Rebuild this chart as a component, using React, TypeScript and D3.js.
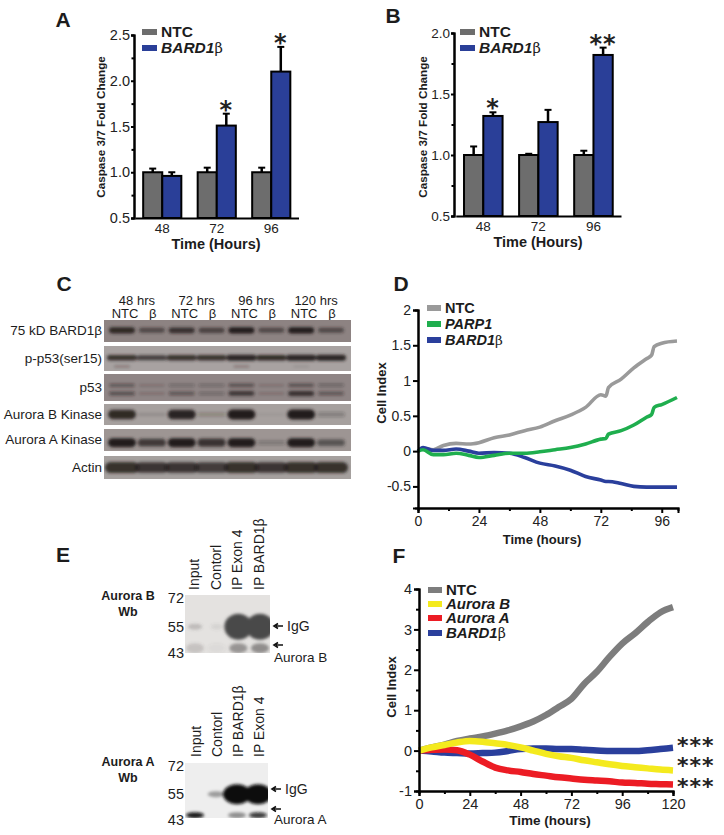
import React, { useEffect, useRef } from 'react';
import * as d3 from 'd3';

const SANS = '"Liberation Sans", Arial, sans-serif';
const SERIF = '"DejaVu Serif", "Liberation Serif", serif';
const STAR_FONT = '"DejaVu Sans", sans-serif';

// bar panels A and B
const timesAB = ['48', '72', '96'];
const ntcA = [1, 1, 1];
const bardA = [0.96, 1.51, 2.1];
const ntcErrA = [0.04, 0.05, 0.05];
const bardErrA = [0.04, 0.13, 0.27];
const starsA = ['', '*', '*'];
const ticksA = [0.5, 1, 1.5, 2, 2.5];
const minorA = [0.75, 1.25, 1.75, 2.25];

const ntcB = [1, 1, 1];
const bardB = [1.32, 1.27, 1.82];
const ntcErrB = [0.07, 0.01, 0.035];
const bardErrB = [0.03, 0.1, 0.06];
const starsB = ['*', '', '**'];
const ticksB = [0.5, 1, 1.5, 2];
const minorB = [0.75, 1.25, 1.75];

// western blot C, band strength per lane
const blotRows = ['75 kD BARD1β', 'p-p53(ser15)', 'p53', 'Aurora B Kinase', 'Aurora A Kinase', 'Actin'];
const blotHours = ['48 hrs', '72 hrs', '96 hrs', '120 hrs'];
const blotLanes = ['NTC', 'β', 'NTC', 'β', 'NTC', 'β', 'NTC', 'β'];
const bard1Bands = [0.9, 0.6, 0.8, 0.65, 1, 0.6, 1, 0.6];
const pp53Bands = [0.85, 0.75, 0.85, 0.85, 0.95, 0.9, 0.95, 0.95];
const pp53Faint = [0.3, 0, 0, 0, 0.3, 0, 0.1, 0];
const p53Upper = [0.45, 0.2, 0.3, 0.3, 0.5, 0.2, 0.5, 0.35];
const p53Lower = [0.5, 0.2, 0.45, 0.3, 0.75, 0.2, 0.8, 0.45];
const auroraBBands = [0.9, 0.12, 0.95, 0.2, 1, 0.06, 1, 0.25];
const auroraABands = [1, 0.75, 1, 0.8, 1, 0.25, 1, 0.55];
const actinBands = [0.85, 0.8, 0.8, 0.75, 0.85, 0.8, 0.85, 0.85];

// growth curves D
const hoursD = [0, 2, 6, 10, 15, 20, 24, 30, 36, 42, 48, 54, 60, 66, 72, 74, 75, 80, 85, 90, 92, 93, 96, 102];
const ntcD = [0, 0.04, 0.02, 0.08, 0.11, 0.1, 0.12, 0.19, 0.23, 0.29, 0.34, 0.43, 0.51, 0.62, 0.8, 0.78, 0.9, 1.02, 1.18, 1.31, 1.36, 1.48, 1.53, 1.56];
const parp1D = [0, 0.02, -0.05, -0.05, -0.03, -0.06, -0.09, -0.06, -0.03, -0.03, -0.01, 0.02, 0.05, 0.1, 0.17, 0.18, 0.24, 0.29, 0.37, 0.48, 0.52, 0.62, 0.66, 0.76];
const bardD = [0, 0.05, 0.01, 0.01, 0.03, 0, -0.03, -0.02, -0.03, -0.09, -0.17, -0.21, -0.27, -0.36, -0.41, -0.43, -0.43, -0.46, -0.5, -0.51, -0.51, -0.51, -0.51, -0.51];

// growth curves F
const hoursF = [0, 6, 12, 18, 24, 30, 36, 42, 48, 54, 60, 66, 72, 78, 84, 90, 96, 102, 108, 114, 120];
const ntcF = [0, 0.08, 0.15, 0.24, 0.3, 0.35, 0.42, 0.5, 0.6, 0.72, 0.88, 1.08, 1.28, 1.65, 1.95, 2.32, 2.65, 2.9, 3.18, 3.42, 3.55];
const auroraBF = [0, 0.08, 0.14, 0.2, 0.24, 0.22, 0.18, 0.14, 0.08, 0, -0.08, -0.14, -0.18, -0.24, -0.29, -0.34, -0.38, -0.41, -0.44, -0.47, -0.49];
const auroraAF = [0, 0.02, 0.03, 0.01, -0.1, -0.27, -0.42, -0.49, -0.53, -0.58, -0.62, -0.66, -0.69, -0.72, -0.74, -0.76, -0.79, -0.8, -0.82, -0.83, -0.84];
const bardF = [0, -0.02, -0.05, -0.06, -0.07, -0.06, -0.05, -0.01, 0.04, 0.05, 0.05, 0.04, 0.04, 0.02, 0, -0.01, -0.01, -0.01, 0.01, 0.04, 0.07];

// co-IP blots E
const kDa = [72, 55, 43];
const lanesEB = ['Input', 'Contorl', 'IP Exon 4', 'IP BARD1β'];
const lanesEA = ['Input', 'Contorl', 'IP BARD1β', 'IP Exon 4'];
const upperBandsEB = [0.25, 0.1, 1, 1];
const lowerBandsEB = [0.2, 0.05, 0.5, 0.55];
const upperBandsEA = [0, 0.35, 1, 1];
const lowerBandsEA = [0.95, 0, 0.4, 0.8];

const GREY = '#6d6d6d';
const BLUE = '#2a3f98';
const LIGHT_GREY = '#9a9a9a';
const GREEN = '#1fae4e';
const YELLOW = '#f4ea1e';
const RED = '#ec1c24';
const LINE_BLUE = '#2a3f9c';

type G = d3.Selection<SVGGElement, unknown, null, undefined>;

function label(g: G, x: number, y: number, s: string, size: number, weight = 'normal', anchor = 'middle', rotate = false) {
  return g.append('text')
    .attr('transform', rotate ? `translate(${x},${y}) rotate(-90)` : `translate(${x},${y})`)
    .attr('text-anchor', anchor)
    .attr('font-family', SANS)
    .attr('font-size', size)
    .attr('font-weight', weight)
    .attr('fill', '#1c1c1c')
    .text(s);
}

function legendItem(g: G, x: number, y: number, color: string, name: string, italic: boolean, beta: boolean, size: number, swatch: number) {
  g.append('rect').attr('x', x).attr('y', y - 3).attr('width', swatch).attr('height', 6).attr('fill', color);
  const t = g.append('text')
    .attr('x', x + swatch + 4).attr('y', y + 5)
    .attr('font-family', SANS).attr('font-size', size).attr('font-weight', 'bold').attr('fill', '#1c1c1c');
  t.append('tspan').attr('font-style', italic ? 'italic' : 'normal').text(name);
  if (beta) t.append('tspan').attr('font-family', SERIF).attr('font-weight', 'normal').attr('font-size', size - 1).text('β');
}

function styleAxis(a: G, size: number) {
  a.attr('font-family', SANS).attr('font-size', size);
  a.select('.domain').attr('stroke', '#000').attr('stroke-width', 2);
  a.selectAll('line').attr('stroke', '#000').attr('stroke-width', 2);
  a.selectAll('text').attr('fill', '#222');
}

function barPanel(
  svg: G, left: number, top: number, bottom: number, xStart: number, xEnd: number, yMax: number,
  ticks: number[], minor: number[], ntc: number[], bard: number[], ntcErr: number[], bardErr: number[], stars: string[], tickFont: number,
) {
  const y = d3.scaleLinear().domain([0.5, yMax]).range([bottom, top]);
  const x0 = d3.scaleBand().domain(timesAB).range([xStart, xEnd]).paddingInner(0.3).paddingOuter(0.15);
  const x1 = d3.scaleBand().domain(['ntc', 'bard']).range([0, x0.bandwidth()]);

  const rows = timesAB.map((t, i) => ({ t, i }));
  const groups = svg.append('g').selectAll('g').data(rows).join('g')
    .attr('transform', (d) => `translate(${x0(d.t)},0)`);

  const series = [
    { key: 'ntc', vals: ntc, errs: ntcErr, fill: GREY },
    { key: 'bard', vals: bard, errs: bardErr, fill: BLUE },
  ];
  series.forEach((s) => {
    const cx = (x1(s.key) ?? 0) + x1.bandwidth() / 2;
    groups.append('line')
      .attr('x1', cx).attr('x2', cx)
      .attr('y1', (d) => y(s.vals[d.i])).attr('y2', (d) => y(s.vals[d.i] + s.errs[d.i]))
      .attr('stroke', '#000').attr('stroke-width', 2.5);
    groups.append('line')
      .attr('x1', cx - 3.5).attr('x2', cx + 3.5)
      .attr('y1', (d) => y(s.vals[d.i] + s.errs[d.i])).attr('y2', (d) => y(s.vals[d.i] + s.errs[d.i]))
      .attr('stroke', '#000').attr('stroke-width', 2);
    groups.append('rect')
      .attr('x', x1(s.key) ?? 0).attr('width', x1.bandwidth())
      .attr('y', (d) => y(s.vals[d.i])).attr('height', (d) => bottom - y(s.vals[d.i]))
      .attr('fill', s.fill).attr('stroke', '#000').attr('stroke-width', 2);
  });

  // significance stars sit just above the error bar
  groups.append('text')
    .attr('x', (x1('bard') ?? 0) + x1.bandwidth() / 2)
    .attr('y', (d) => y(bard[d.i] + bardErr[d.i]) + 4)
    .attr('text-anchor', 'middle').attr('font-family', STAR_FONT).attr('font-weight', 'bold')
    .attr('font-size', 24).attr('letter-spacing', 1).attr('fill', '#222')
    .text((d) => stars[d.i]);

  const am = svg.append('g').attr('transform', `translate(${left},0)`)
    .call(d3.axisLeft(y).tickValues(minor).tickSize(2.5).tickFormat(() => ''));
  styleAxis(am as unknown as G, 14);
  const ay = svg.append('g').attr('transform', `translate(${left},0)`)
    .call(d3.axisLeft(y).tickValues(ticks).tickSize(3).tickPadding(1).tickFormat(d3.format('.1f')));
  styleAxis(ay as unknown as G, tickFont);
  const ax = svg.append('g').attr('transform', `translate(0,${bottom})`)
    .call(d3.axisBottom(x0).tickSize(0).tickPadding(5));
  styleAxis(ax as unknown as G, 13.5);
}

function linePanel(
  svg: G, x: d3.ScaleLinear<number, number>, y: d3.ScaleLinear<number, number>, left: number, bottom: number,
  xTicks: number[], xMinor: number[], yTicks: number[], yMinor: number[], size: number, sw: number,
  hours: number[], curves: { vals: number[]; color: string }[],
) {
  const line = d3.line<number>().x((_, i) => x(hours[i])).y((d) => y(d)).curve(d3.curveMonotoneX);
  curves.forEach((c) => {
    svg.append('path').attr('d', line(c.vals)).attr('fill', 'none').attr('stroke', c.color)
      .attr('stroke-width', sw).attr('stroke-linejoin', 'round');
  });
  const mx = svg.append('g').attr('transform', `translate(0,${bottom})`)
    .call(d3.axisBottom(x).tickValues(xMinor).tickSize(3).tickFormat(() => ''));
  styleAxis(mx as unknown as G, size);
  const my = svg.append('g').attr('transform', `translate(${left},0)`)
    .call(d3.axisLeft(y).tickValues(yMinor).tickSize(3).tickFormat(() => ''));
  styleAxis(my as unknown as G, size);
  const ax = svg.append('g').attr('transform', `translate(0,${bottom})`)
    .call(d3.axisBottom(x).tickValues(xTicks).tickSize(5).tickPadding(3).tickFormat(d3.format('d')));
  styleAxis(ax as unknown as G, size);
  const ay = svg.append('g').attr('transform', `translate(${left},0)`)
    .call(d3.axisLeft(y).tickValues(yTicks).tickSize(5).tickPadding(2).tickFormat((d) => String(d)));
  styleAxis(ay as unknown as G, size);
}

function blotStrip(
  svg: G, id: string, top: number, h: number, bg: string,
  x: d3.ScalePoint<string>, layers: { vals: number[]; at: number; ry: number; half: number }[],
) {
  svg.append('clipPath').attr('id', id).append('rect').attr('x', 104).attr('y', top).attr('width', 247).attr('height', h);
  const g = svg.append('g').attr('clip-path', `url(#${id})`);
  g.append('rect').attr('x', 104).attr('y', top).attr('width', 247).attr('height', h).attr('fill', bg);
  const bands = g.append('g').attr('filter', 'url(#blur1)');
  const keys = blotLanes.map((_, i) => String(i));
  layers.forEach((l) => {
    const ry = (i: number) => Math.max(1, l.ry * Math.sqrt(l.vals[i]));
    bands.selectAll(null).data(keys).join('rect')
      .attr('x', (k) => (x(k) ?? 0) - l.half)
      .attr('width', l.half * 2)
      .attr('y', (k, i) => top + h * l.at - ry(i))
      .attr('height', (k, i) => ry(i) * 2)
      .attr('rx', (k, i) => ry(i))
      .attr('fill', '#231c1b')
      .attr('opacity', (k, i) => l.vals[i]);
  });
}

function coIpBlot(
  svg: G, left: number, right: number, top: number, bottom: number, at72: number, at43: number, lanes: string[],
  upper: number[], lower: number[], upperKDa: number, lowerKDa: number, upperRy: number, lowerRy: number, bg: string, ink: string, id: string,
) {
  const y = d3.scaleLog().domain([72, 43]).range([at72, at43]);
  const x = d3.scalePoint().domain(lanes).range([left + 10, right - 10]);
  svg.append('clipPath').attr('id', id).append('rect').attr('x', left).attr('y', top).attr('width', right - left).attr('height', bottom - top);
  const g = svg.append('g').attr('clip-path', `url(#${id})`);
  g.append('rect').attr('x', left).attr('y', top).attr('width', right - left).attr('height', bottom - top).attr('fill', bg);
  const b = g.append('g').attr('filter', 'url(#blur2)');
  b.selectAll(null).data(lanes).join('ellipse')
    .attr('cx', (d) => x(d) ?? 0).attr('cy', y(upperKDa))
    .attr('rx', (d, i) => 5 + 9 * upper[i]).attr('ry', (d, i) => (upper[i] > 0.6 ? upperRy : 3))
    .attr('fill', ink).attr('opacity', (d, i) => upper[i]);
  b.selectAll(null).data(lanes).join('ellipse')
    .attr('cx', (d) => x(d) ?? 0).attr('cy', y(lowerKDa))
    .attr('rx', 9).attr('ry', lowerRy)
    .attr('fill', ink).attr('opacity', (d, i) => lower[i]);
  kDa.forEach((k) => label(svg, left - 1, y(k) + 5, String(k), 14.5, 'normal', 'end'));
  return x;
}

function arrow(g: G, x: number, y: number) {
  const p = d3.path();
  p.moveTo(x + 9, y); p.lineTo(x + 2, y);
  p.moveTo(x + 4, y - 2.5); p.lineTo(x, y); p.lineTo(x + 4, y + 2.5);
  g.append('path').attr('d', p.toString()).attr('fill', 'none').attr('stroke', '#111').attr('stroke-width', 1.6);
}

export default function App() {
  const ref = useRef<SVGSVGElement | null>(null);

  useEffect(() => {
    if (!ref.current) return;
    const root = d3.select(ref.current);
    root.selectAll('*').remove();
    const svg = root.append('g') as unknown as G;

    const defs = svg.append('defs');
    defs.append('filter').attr('id', 'blur1').attr('x', '-10%').attr('y', '-50%').attr('width', '120%').attr('height', '200%')
      .append('feGaussianBlur').attr('stdDeviation', 1.5);
    defs.append('filter').attr('id', 'blur2').attr('x', '-20%').attr('y', '-50%').attr('width', '140%').attr('height', '200%')
      .append('feGaussianBlur').attr('stdDeviation', 1.8);

    // panel letters
    [['A', 63, 27], ['B', 393, 23], ['C', 64, 291], ['D', 401, 291], ['E', 63, 562], ['F', 399, 563]].forEach(([s, x, y]) => {
      label(svg, x as number, y as number, s as string, 21, 'bold');
    });

    // A
    barPanel(svg, 134, 35, 218, 135, 298.5, 2.5, ticksA, minorA, ntcA, bardA, ntcErrA, bardErrA, starsA, 14.5);
    legendItem(svg, 142, 32, GREY, 'NTC', false, false, 15.5, 15);
    legendItem(svg, 142, 48, BLUE, 'BARD1', true, true, 15.5, 15);
    label(svg, 105, 127, 'Caspase 3/7 Fold Change', 11.7, 'bold', 'middle', true);
    label(svg, 216, 249, 'Time (Hours)', 14.5, 'bold');

    // B
    barPanel(svg, 454, 33, 216, 455.75, 621, 2, ticksB, minorB, ntcB, bardB, ntcErrB, bardErrB, starsB, 13.5);
    legendItem(svg, 460, 32, GREY, 'NTC', false, false, 15.5, 15);
    legendItem(svg, 460, 48, BLUE, 'BARD1', true, true, 15.5, 15);
    label(svg, 427, 127, 'Caspase 3/7 Fold Change', 11.7, 'bold', 'middle', true);
    label(svg, 538, 247, 'Time (Hours)', 14.5, 'bold');

    // C
    const laneKeys = blotLanes.map((_, i) => String(i));
    const xC = d3.scalePoint().domain(laneKeys).range([122, 331]);
    blotHours.forEach((h, i) => {
      const cx = ((xC(String(i * 2)) ?? 0) + (xC(String(i * 2 + 1)) ?? 0)) / 2;
      label(svg, cx, 305, h, 13);
    });
    blotLanes.forEach((l, i) => label(svg, (xC(String(i)) ?? 0) + (l === 'β' ? 1 : 3), 318, l, 13));
    const rowTops = [320, 346, 374, 404, 429, 456];
    const rowHeights = [22, 25, 27, 21, 22, 23];
    const rowBg = ['#8d8382', '#a8a2a1', '#8f8585', '#a6a09e', '#9d9593', '#a5a09e'];
    const rowLayers = [
      [{ vals: bard1Bands, at: 0.47, ry: 3.2, half: 13 }],
      [{ vals: pp53Bands, at: 0.47, ry: 3, half: 15 }, { vals: pp53Faint, at: 0.82, ry: 1.5, half: 8 }],
      [{ vals: p53Upper, at: 0.42, ry: 2.5, half: 13 }, { vals: p53Lower, at: 0.72, ry: 2.8, half: 13 }],
      [{ vals: auroraBBands, at: 0.5, ry: 5, half: 14 }],
      [{ vals: auroraABands, at: 0.62, ry: 4.5, half: 14 }],
      [{ vals: actinBands, at: 0.5, ry: 6, half: 17 }],
    ];
    blotRows.forEach((r, i) => {
      blotStrip(svg, `row${i}`, rowTops[i], rowHeights[i], rowBg[i], xC as unknown as d3.ScalePoint<string>, rowLayers[i]);
      label(svg, 102, rowTops[i] + rowHeights[i] / 2 + 4, r, 13.5, 'normal', 'end');
    });

    // D
    const xD = d3.scaleLinear().domain([0, 102.4]).range([418, 678]);
    const yD = d3.scaleLinear().domain([-0.806, 2]).range([508, 310]);
    linePanel(svg, xD, yD, 418, 508, [0, 24, 48, 72, 96], [12, 36, 60, 84], [-0.5, 0, 0.5, 1, 1.5, 2], [], 14, 3.6, hoursD, [
      { vals: ntcD, color: LIGHT_GREY }, { vals: bardD, color: LINE_BLUE }, { vals: parp1D, color: GREEN },
    ]);
    legendItem(svg, 427, 308, LIGHT_GREY, 'NTC', false, false, 14.5, 14);
    legendItem(svg, 427, 324, GREEN, 'PARP1', true, false, 14.5, 14);
    legendItem(svg, 427, 340, LINE_BLUE, 'BARD1', true, true, 14.5, 14);
    label(svg, 386, 393, 'Cell Index', 13, 'bold', 'middle', true);
    label(svg, 542, 544, 'Time (hours)', 13, 'bold');

    // E
    const xEB = coIpBlot(svg, 185, 270, 595, 653, 598, 653, lanesEB, upperBandsEB, lowerBandsEB, 55, 45, 13, 5, '#e4e2e0', '#4a4848', 'ipb');
    const xEA = coIpBlot(svg, 185, 268, 763, 818, 766, 820, lanesEA, upperBandsEA, lowerBandsEA, 55, 45, 10, 3, '#eeeeee', '#0c0c0c', 'ipa');
    lanesEB.forEach((l) => label(svg, (xEB(l) ?? 0) + 4, 590, l, 14, 'normal', 'start', true));
    lanesEA.forEach((l) => label(svg, (xEA(l) ?? 0) + 6, 757, l, 14, 'normal', 'start', true));
    label(svg, 128, 600, 'Aurora B', 12.5, 'bold');
    label(svg, 128, 616, 'Wb', 12.5, 'bold');
    label(svg, 128, 766, 'Aurora A', 12.5, 'bold');
    label(svg, 128, 782, 'Wb', 12.5, 'bold');
    arrow(svg, 274, 626);
    label(svg, 287, 631, 'IgG', 14, 'normal', 'start');
    arrow(svg, 274, 645);
    label(svg, 274, 662, 'Aurora B', 13.5, 'normal', 'start');
    arrow(svg, 272, 789);
    label(svg, 285, 794, 'IgG', 14, 'normal', 'start');
    arrow(svg, 272, 809);
    label(svg, 274, 824, 'Aurora A', 13.5, 'normal', 'start');

    // F
    const xF = d3.scaleLinear().domain([0, 120]).range([419, 673]);
    const yF = d3.scaleLinear().domain([-1, 4]).range([791, 589]);
    linePanel(svg, xF, yF, 419, 791, [0, 24, 48, 72, 96, 120], [12, 36, 60, 84, 108], [-1, 0, 1, 2, 3, 4], [-0.5, 0.5, 1.5, 2.5, 3.5], 14.5, 6.5, hoursF, [
      { vals: ntcF, color: '#7d7d7d' }, { vals: bardF, color: LINE_BLUE }, { vals: auroraAF, color: RED }, { vals: auroraBF, color: YELLOW },
    ]);
    legendItem(svg, 428, 590, '#7d7d7d', 'NTC', false, false, 15, 14);
    legendItem(svg, 428, 604, YELLOW, 'Aurora B', true, false, 15, 14);
    legendItem(svg, 428, 618, RED, 'Aurora A', true, false, 15, 14);
    legendItem(svg, 428, 633, LINE_BLUE, 'BARD1', true, true, 15, 14);
    label(svg, 396, 687, 'Cell Index', 13, 'bold', 'middle', true);
    label(svg, 550, 825, 'Time (hours)', 13.5, 'bold');
    [753, 773, 794].forEach((y) => {
      svg.append('text').attr('x', 677).attr('y', y).attr('font-family', STAR_FONT).attr('font-weight', 'bold')
        .attr('font-size', 22).attr('letter-spacing', 1).attr('fill', '#222').text('***');
    });
  }, []);

  return <svg ref={ref} width={724} height={835} style={{ position: 'absolute', left: 0, top: 0, background: '#fff' }} />;
}
